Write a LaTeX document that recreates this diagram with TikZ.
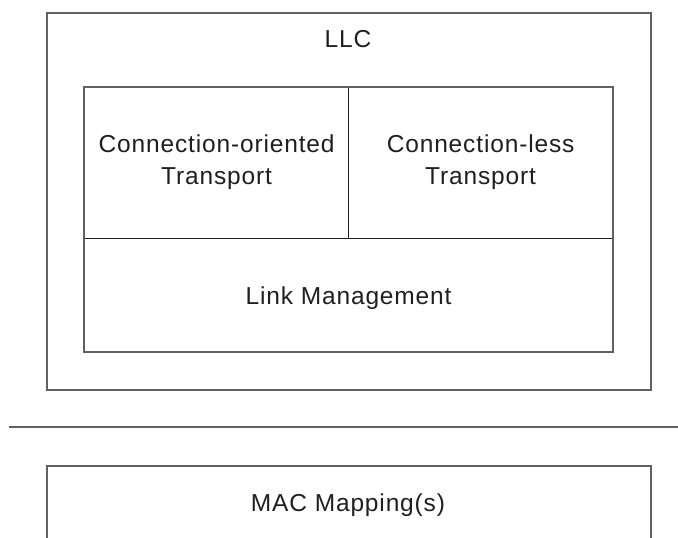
\documentclass[tikz,border=0pt]{standalone}
\usepackage{fontspec}
\setmainfont[LetterSpace=3.5]{Liberation Sans}
\begin{document}
\begin{tikzpicture}[x=1pt,y=-1pt,
  frame/.style={draw=black!62,line width=2pt},
  cell/.style={draw=black!88,line width=1.2pt,inner sep=0pt,anchor=north west},
  lbl/.style={font=\fontsize{24.5}{32}\selectfont,text=black!88,align=center,inner sep=0pt}]
\useasboundingbox (0,0) rectangle (678,538);
\clip (0,0) rectangle (678,538);
% LLC outer box
\node[frame,inner sep=0pt,anchor=north west,minimum width=604pt,minimum height=377.5pt] (llc) at (46,11.5) {};
\node[lbl,anchor=base] (llct) at (348,47.5) {LLC};
% inner cells
\node[cell,minimum width=264pt,minimum height=151pt] (co) at (84,87) {};
\node[cell,minimum width=264pt,minimum height=151pt] (cl) at (348,87) {};
\node[cell,minimum width=528pt,minimum height=113pt] (lm) at (84,238) {};
\draw[frame] (co.north west) rectangle (lm.south east);
\node[lbl] (cot) at ([yshift=0.5pt]co.center) {Connection-oriented\\Transport};
\node[lbl] (clt) at ([yshift=0.5pt]cl.center) {Connection-less\\Transport};
\node[lbl] (lmt) at ([yshift=-3.5pt]lm.center) {Link Management};
% separator
\coordinate (sl) at (9,427);
\coordinate (sr) at (680,427);
\draw[frame] (sl) -- (sr);
% MAC box
\node[frame,inner sep=0pt,anchor=north west,minimum width=604pt,minimum height=120pt] (mac) at (46,465) {};
\node[lbl,anchor=base] (mact) at (348,511) {MAC Mapping(s)};
\end{tikzpicture}
\end{document}
